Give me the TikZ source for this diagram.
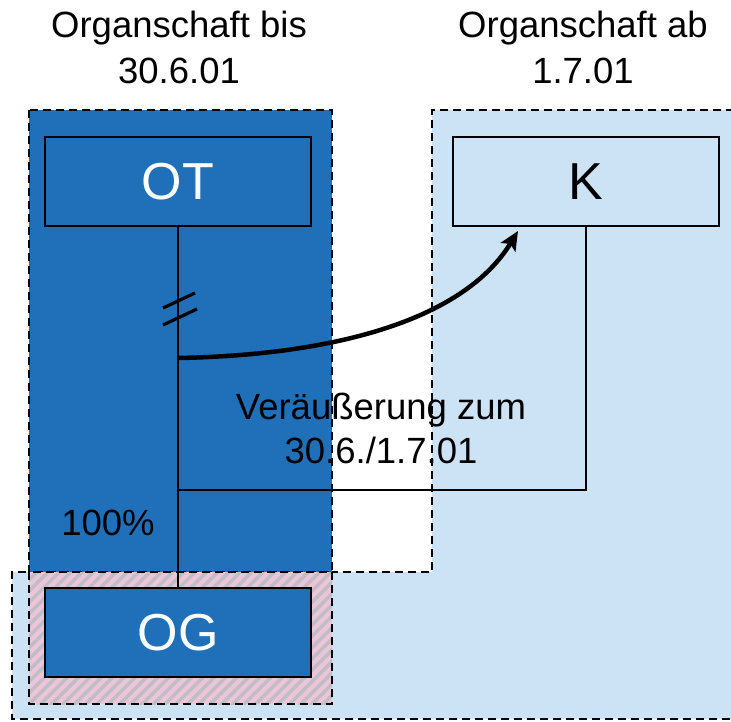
\documentclass[tikz,border=0pt]{standalone}
\usepackage{fontspec}
\setmainfont{Liberation Sans}
\usetikzlibrary{arrows.meta,patterns.meta}
\definecolor{darkblue}{RGB}{31,112,185}
\definecolor{lightblue}{RGB}{204,226,245}
\definecolor{pinkbg}{RGB}{236,196,220}
\definecolor{hatchgray}{RGB}{192,190,192}
\begin{document}
\begin{tikzpicture}[x=1pt,y=-1pt,
  region/.style={dash pattern=on 8pt off 5pt, line width=1.7pt},
  entity/.style={draw=black, line width=1.9pt, minimum width=266pt, minimum height=89pt, inner sep=0pt, font=\fontsize{52}{60}\selectfont},
  title/.style={align=center, inner sep=0pt, font=\fontsize{36.5}{46}\selectfont},
  label/.style={align=center, inner sep=0pt, font=\fontsize{36.5}{44}\selectfont},
  link/.style={line width=2.2pt},
]
\useasboundingbox (0,0) rectangle (731,722);
% light blue region (K and bottom)
\fill[lightblue] (432,110) -- (760,110) -- (760,719) -- (12,719) -- (12,572) -- (432,572) -- cycle;
\draw[region] (760,110) -- (432,110) -- (432,572) -- (12,572) -- (12,719) -- (760,719);
% dark blue region (OT)
\draw[region, fill=darkblue] (29,110) rectangle (332,572);
% hatched region around OG
\fill[pinkbg] (29,572) rectangle (332,704);
\fill[pattern={Lines[angle=45,distance=8pt,line width=3.5pt]}, pattern color=hatchgray] (29,572) rectangle (332,704);
\draw[region] (29,572) rectangle (332,704);
% entities
\node[entity, fill=darkblue, text=white] (OT) at (178,181.5) {OT};
\node[entity, fill=lightblue, text=black] (K) at (586,181.5) {K};
\node[entity, fill=darkblue, text=white] (OG) at (178,632.5) {OG};
% connectors
\coordinate (j1) at (178,358);
\coordinate (j2) at (178,490);
\coordinate (j3) at (586,490);
\coordinate (tip) at (518,231);
\draw[link] (OT.south) -- (OG.north);
\draw[link] (j2) -- (j3) -- (K.south);
\draw[line width=4.5pt, -{Stealth[length=19pt,width=17pt,inset=4pt]}] (j1) .. controls (340,355) and (465,318) .. (tip);
% double slash
\coordinate (s1a) at (163,308); \coordinate (s1b) at (195,293);
\coordinate (s2a) at (163,325); \coordinate (s2b) at (197,309);
\draw[line width=3.2pt] (s1a) -- (s1b);
\draw[line width=3.2pt] (s2a) -- (s2b);
% texts
\node[title] (t1) at (179,47) {Organschaft bis\\30.6.01};
\node[title] (t2) at (583,47) {Organschaft ab\\1.7.01};
\node[label] (sale) at (381,428) {Veräußerung zum\\30.6./1.7.01};
\node[label] (pct) at (108,523) {100\%};
\end{tikzpicture}
\end{document}
